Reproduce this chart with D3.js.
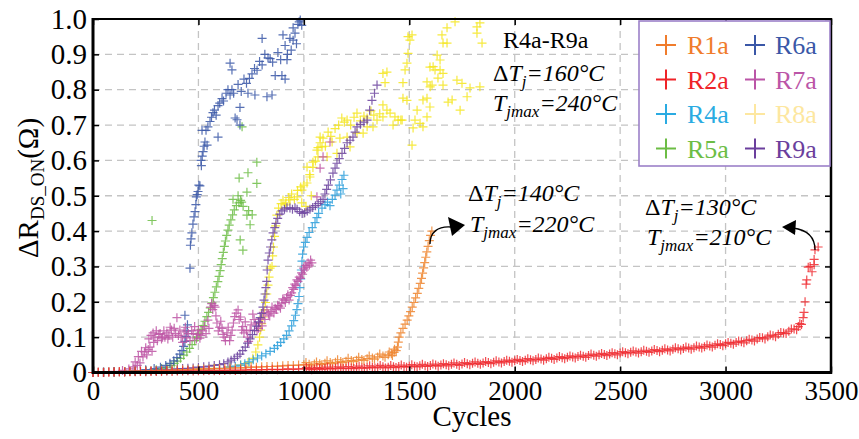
<!DOCTYPE html>
<html><head><meta charset="utf-8">
<script src="https://cdn.jsdelivr.net/npm/d3@7"></script>
<style>body{margin:0;background:#fff}svg{display:block}
svg text{font-family:"Liberation Serif","Times New Roman","DejaVu Serif",serif !important;}</style>
</head><body><svg id="c" width="859" height="439"></svg>
<script>
const xTicks=[0,500,1000,1500,2000,2500,3000,3500];
const yTicks=[0,0.1,0.2,0.3,0.4,0.5,0.6,0.7,0.8,0.9,1.0];
const seriesNames=["R1a","R2a","R4a","R5a","R6a","R7a","R8a","R9a"];
const R1a=[[0,0],[25,.001],[50,.001],[75,.002],[100,.002],[125,.002],[150,.003],[175,.003],[200,.004],[225,.004],[250,.004],[275,.005],[300,.005],[325,.006],[350,.006],[375,.007],[400,.007],[425,.008],[450,.008],[475,.009],[500,.009],[525,.010],[550,.010],[575,.011],[600,.011],[625,.012],[650,.012],[675,.013],[700,.013],[725,.014],[750,.015],[775,.015],[800,.016],[825,.017],[850,.017],[875,.018],[900,.019],[925,.020],[950,.020],[975,.021],[1000,.022],[1025,.023],[1050,.024],[1075,.025],[1100,.026],[1125,.028],[1150,.029],[1175,.031],[1200,.032],[1225,.034],[1250,.035],[1275,.037],[1300,.039],[1325,.041],[1350,.044],[1375,.047],[1400,.050],[1415,.053],[1428,.057],[1438,.062],[1444,.072],[1448,.086],[1452,.100],[1460,.112],[1470,.125],[1480,.137],[1490,.148],[1498,.160],[1506,.172],[1514,.185],[1522,.198],[1530,.211],[1538,.224],[1545,.238],[1552,.252],[1558,.266],[1563,.281],[1568,.296],[1573,.311],[1578,.326],[1583,.341],[1589,.357],[1595,.373],[1601,.388],[1607,.400],
[1010,.028],[1060,.030],[1110,.033],[1160,.036],[1210,.040],[1260,.043],[1310,.047],[1360,.052],[1405,.058],[1430,.066],
[1035,.019],[1085,.022],[1135,.025],[1185,.028],[1235,.031],[1285,.034],[1335,.038],[1385,.043],[1420,.048]];
const R2a=[[0,0],[25,.001],[50,0],[75,.001],[100,.001],[125,.002],[150,.001],[175,.002],[200,.002],[225,.003],[250,.002],[275,.003],[300,.003],[325,.003],[350,.004],[375,.003],[400,.004],[425,.004],[450,.005],[475,.004],[500,.005],[525,.005],[550,.006],[575,.005],[600,.006],[625,.006],[650,.007],[675,.006],[700,.007],[725,.007],[750,.008],[775,.007],[800,.008],[825,.008],[850,.009],[875,.008],[900,.009],[925,.010],[950,.009],[975,.010],[1000,.010],[1025,.011],[1050,.010],[1075,.011],[1100,.012],[1125,.011],[1150,.012],[1175,.013],[1200,.012],[1225,.013],[1250,.014],[1275,.013],[1300,.014],[1325,.015],[1350,.015],[1375,.016],[1400,.015],[1425,.016],[1450,.017],[1475,.017],[1500,.018],[1525,.018],[1550,.019],[1575,.019],[1600,.020],[1625,.021],[1650,.021],[1675,.022],[1700,.023],[1725,.023],[1750,.024],[1775,.025],[1800,.026],[1825,.026],[1850,.027],[1875,.028],[1900,.029],[1925,.030],[1950,.031],[1975,.032],[2000,.033],[2025,.034],[2050,.035],[2075,.036],[2100,.037],[2125,.038],[2150,.039],[2175,.040],[2200,.041],[2225,.042],[2250,.043],[2275,.044],[2300,.045],[2325,.046],[2350,.048],[2375,.049],[2400,.050],[2425,.051],[2450,.052],[2475,.053],[2500,.055],[2525,.056],[2550,.057],[2575,.058],[2600,.059],[2625,.060],[2650,.061],[2675,.062],[2700,.063],[2725,.064],[2750,.066],[2775,.067],[2800,.068],[2825,.069],[2850,.070],[2875,.072],[2900,.073],[2925,.075],[2950,.077],[2975,.079],[3000,.081],[3025,.083],[3050,.085],[3075,.087],[3100,.090],[3125,.092],[3150,.095],[3175,.098],[3200,.101],[3225,.104],[3250,.108],[3275,.112],[3300,.117],[3325,.123],[3345,.130],[3360,.136],[3368,.155],[3372,.170],[3377,.200],[3382,.250],[3385,.262],[3392,.298],[3401,.300],[3410,.285],[3420,.305],[3420,.320],[3424,.347],[3439,.355],
[1012,.014],[1037,.008],[1062,.014],[1087,.009],[1112,.015],[1137,.010],[1162,.016],[1187,.011],[1212,.017],[1237,.011],[1262,.018],[1287,.012],[1312,.019],[1337,.013],[1362,.020],[1387,.013],[1412,.020],[1437,.014],[1462,.021],[1487,.015],[1512,.022],[1537,.016],[1562,.023],[1587,.017],[1612,.024],[1637,.018],[1662,.025],[1687,.019],[1712,.027],[1737,.020],[1762,.028],[1787,.022],[1812,.030],[1837,.023],[1862,.031],[1887,.025],[1912,.033],[1937,.027],[1962,.035],[1987,.029],[2012,.037],[2037,.031],[2062,.039],[2087,.033],[2112,.041],[2137,.035],[2162,.043],[2187,.037],[2212,.045],[2237,.039],[2262,.047],[2287,.041],[2312,.049],[2337,.043],[2362,.052],[2387,.046],[2412,.054],[2437,.048],[2462,.056],[2487,.050],[2512,.059],[2537,.053],[2562,.061],[2587,.055],[2612,.063],[2637,.057],[2662,.065],[2687,.059],[2712,.067],[2737,.061],[2762,.070],[2787,.064],[2812,.072],[2837,.066],[2862,.075],[2887,.069],[2912,.078],[2937,.072],[2962,.081],[2987,.076],[3012,.085],[3037,.080],[3062,.089],[3087,.084],[3112,.094],[3137,.089],[3162,.099],[3187,.095],[3212,.106],[3237,.101],[3262,.113],[3287,.110],[3312,.123],[3337,.121],[3352,.138]];
const R4a=[[0,0],[50,.001],[100,.001],[150,.002],[200,.003],[250,.003],[300,.004],[350,.005],[400,.006],[450,.007],[500,.008],[550,.010],[600,.012],[650,.015],[675,.018],[700,.021],[720,.025],[740,.030],[760,.036],[780,.041],[800,.047],[820,.053],[840,.060],[860,.068],[875,.076],[890,.085],[905,.095],[918,.105],[930,.118],[942,.132],[952,.147],[960,.162],[967,.178],[972,.195],[977,.215],[981,.240],[985,.265],[988,.290],[991,.315],[994,.335],[999,.355],[1007,.368],[1015,.382],[1025,.396],[1040,.410],[1053,.424],[1062,.438],[1070,.450],[1086,.465],[1100,.475],[1112,.482],[1124,.472],[1135,.490],[1148,.502],[1157,.516],[1168,.530],[1181,.546],[1190,.558],[1186,.520],[1175,.505]];
const R5a=[[0,0],[50,.001],[100,.002],[150,.003],[200,.004],[250,.006],[300,.008],[325,.011],[350,.015],[370,.020],[385,.026],[400,.032],[415,.040],[430,.049],[445,.058],[458,.068],[470,.079],[482,.090],[493,.100],[503,.111],[513,.122],[522,.133],[531,.145],[540,.158],[548,.170],[556,.183],[564,.197],[571,.212],[578,.227],[585,.242],[592,.257],[598,.272],[603,.288],[608,.305],[613,.322],[618,.340],[623,.357],[628,.372],[634,.388],[640,.403],[646,.417],[654,.432],[662,.446],[670,.460],[680,.472],[692,.480],[705,.482],[712,.470],[730,.445],[738,.458],[745,.418],[755,.446],[698,.375],[711,.346],[664,.490],[688,.500],[700,.487],[730,.510],[693,.550],[735,.565],[777,.595],[777,.535],[707,.695],[280,.430]];
const R6a=[[0,0],[50,.001],[100,.002],[150,.003],[200,.005],[250,.008],[290,.011],[320,.015],[345,.020],[365,.026],[383,.033],[398,.042],[412,.052],[422,.062],[430,.074],[436,.088],[441,.102],[446,.118],[448,.135],[436,.162],[460,.295],[462,.360],[465,.378],[469,.395],[474,.420],[479,.440],[484,.455],[488,.475],[490,.497],[494,.503],[498,.512],[502,.530],[507,.528],[512,.600],[514,.585],[518,.612],[522,.625],[527,.640],[531,.652],[517,.685],[536,.685],[545,.695],[541,.643],[555,.710],[562,.722],[569,.735],[576,.742],[584,.728],[593,.755],[593,.666],[601,.762],[612,.775],[619,.768],[631,.790],[640,.800],[650,.785],[650,.875],[659,.856],[659,.800],[667,.790],[674,.720],[683,.715],[688,.815],[697,.750],[697,.700],[703,.795],[716,.830],[728,.818],[735,.790],[742,.832],[754,.845],[766,.860],[768,.785],[778,.855],[790,.880],[802,.870],[802,.945],[815,.900],[825,.780],[830,.890],[840,.888],[849,.785],[852,.878],[864,.840],[877,.905],[890,.885],[896,.840],[901,.955],[911,.925],[911,.830],[920,.885],[922,.900],[934,.945],[940,.912],[949,.940],[949,.975],[958,.960],[965,.930],[972,.985],[978,.992],[983,.997],[990,.982]];
const R7a=[[0,0],[50,.001],[100,.003],[140,.006],[170,.010],[190,.016],[200,.030],[210,.020],[215,.045],[223,.027],[230,.060],[237,.044],[245,.058],[250,.070],[255,.050],[262,.065],[265,.095],[270,.072],[275,.105],[280,.060],[285,.112],[288,.085],[294,.100],[300,.118],[305,.090],[312,.108],[318,.110],[325,.095],[330,.100],[336,.118],[341,.100],[350,.112],[355,.095],[360,.105],[366,.128],[372,.120],[378,.100],[385,.125],[392,.110],[398,.155],[405,.105],[412,.120],[418,.100],[425,.085],[432,.115],[438,.128],[445,.098],[452,.110],[460,.090],[468,.118],[475,.110],[482,.130],[490,.095],[495,.108],[500,.120],[507,.097],[512,.105],[520,.118],[528,.130],[536,.110],[545,.148],[550,.125],[558,.185],[563,.195],[568,.178],[574,.190],[579,.185],[583,.160],[588,.140],[594,.118],[600,.128],[606,.145],[612,.125],[617,.108],[622,.100],[628,.090],[635,.112],[641,.128],[648,.090],[654,.105],[660,.120],[666,.140],[672,.158],[679,.168],[688,.177],[693,.150],[700,.157],[705,.120],[710,.130],[716,.112],[722,.143],[728,.118],[733,.100],[738,.088],[745,.120],[750,.135],[758,.165],[764,.150],[770,.140],[778,.118],[785,.125],[790,.140],[796,.152],[802,.132],[808,.170],[815,.150],[825,.177],[832,.165],[838,.160],[844,.172],[849,.185],[858,.168],[864,.182],[870,.178],[876,.190],[882,.188],[889,.182],[895,.196],[900,.208],[906,.205],[912,.198],[918,.212],[924,.220],[930,.205],[936,.218],[942,.225],[947,.240],[952,.235],[957,.250],[962,.246],[967,.262],[972,.258],[978,.270],[984,.266],[989,.282],[994,.278],[999,.295],[1003,.290],[1009,.303],[1014,.298],[1020,.310],[1026,.304],[1032,.318],[1038,.310],[1062,.497],[1077,.578],[1091,.610],[1124,.652]];
const R8a=[[0,0],[100,.002],[200,.004],[300,.006],[400,.008],[500,.010],[575,.012],[650,.016],[700,.021],[735,.028],[758,.040],[772,.058],[782,.078],[790,.100],[795,.120],[800,.138],[806,.157],[812,.177],[818,.198],[824,.222],[830,.247],[835,.270],[840,.295],[849,.300],[852,.330],[856,.355],[861,.385],[866,.415],[872,.445],[880,.465],[892,.478],[901,.488],[911,.474],[915,.480],[928,.495],[934,.488],[942,.505],[955,.490],[968,.497],[970,.515],[985,.525],[991,.516],[1000,.530],[1010,.470],[1015,.536],[1029,.553],[1035,.500],[990,.480],[1015,.581],[1028,.560],[1043,.580],[1043,.595],[1055,.598],[1062,.629],[1067,.610],[1067,.636],[1077,.650],[1077,.666],[1086,.638],[1091,.663],[1102,.640],[1110,.610],[1115,.680],[1128,.668],[1134,.652],[1148,.690],[1157,.620],[1165,.700],[1171,.663],[1180,.720],[1192,.708],[1205,.666],[1205,.714],[1219,.638],[1222,.700],[1238,.722],[1252,.677],[1252,.734],[1268,.712],[1281,.677],[1285,.725],[1300,.695],[1300,.720],[1318,.740],[1328,.695],[1332,.728],[1347,.714],[1360,.732],[1375,.723],[1375,.757],[1375,.846],[1385,.820],[1394,.742],[1394,.850],[1409,.734],[1423,.700],[1432,.723],[1447,.714],[1460,.714],[1466,.714],[1470,.820],[1470,.776],[1480,.856],[1489,.875],[1489,.770],[1494,.903],[1494,.950],[1503,.940],[1513,.955],[1513,.643],[1518,.692],[1527,.714],[1537,.742],[1551,.705],[1565,.695],[1565,.771],[1584,.723],[1584,.776],[1584,.822],[1598,.751],[1598,.864],[1599,.808],[1608,.813],[1613,.865],[1622,.856],[1632,.898],[1636,.833],[1646,.884],[1646,.856],[1655,.955],[1660,.932],[1660,.846],[1660,.813],[1679,.975],[1679,.932],[1684,.765],[1703,.771],[1717,.992],[1726,.827],[1741,.742],[1750,.818],[1774,.780],[1788,.805],[1821,.978],[1821,.960],[1835,.989],[1835,.808],[1845,.932]];
const R9a=[[0,0],[25,.001],[50,.001],[75,.002],[100,.002],[125,.002],[150,.003],[175,.003],[200,.004],[225,.004],[250,.005],[275,.005],[300,.006],[325,.007],[350,.008],[375,.009],[400,.010],[425,.011],[450,.012],[475,.013],[500,.015],[525,.016],[550,.018],[575,.020],[600,.022],[620,.025],[640,.030],[655,.035],[670,.040],[685,.046],[697,.052],[710,.062],[722,.072],[733,.083],[745,.095],[756,.107],[766,.119],[776,.131],[785,.143],[793,.155],[800,.167],[806,.185],[811,.205],[816,.222],[820,.240],[824,.258],[826,.290],[830,.318],[836,.338],[842,.355],[848,.375],[854,.395],[862,.410],[868,.422],[876,.436],[886,.448],[896,.457],[908,.462],[920,.466],[934,.465],[946,.462],[958,.466],[968,.462],[980,.455],[992,.450],[1004,.452],[1016,.457],[1029,.462],[1042,.467],[1055,.472],[1068,.478],[1080,.483],[1091,.490],[1100,.505],[1108,.518],[1116,.530],[1126,.545],[1138,.564],[1148,.578],[1157,.592],[1168,.605],[1181,.620],[1193,.634],[1205,.650],[1219,.657],[1233,.666],[1243,.680],[1252,.695],[1268,.702],[1285,.708],[1300,.714],[1312,.742],[1323,.770],[1335,.790],[1347,.813]];

const markerColors={R1a:"#ee8630",R2a:"#ef2a30",R4a:"#2a9ddb",R5a:"#6cbd45",R6a:"#3a57a7",R7a:"#bd55a5",R8a:"#f4e51c",R9a:"#6b429e"};
const legendColors={R1a:"#f07c2c",R2a:"#ef2328",R4a:"#2aabe2",R5a:"#6cbd45",R6a:"#3a57a7",R7a:"#bb55a7",R8a:"#fde7a0",R9a:"#6b3f9d"};
const dataBy={R1a,R2a,R4a,R5a,R6a,R7a,R8a,R9a};
const drawOrder=["R8a","R4a","R5a","R6a","R7a","R9a","R1a","R2a"];

const svg=d3.select("#c");
const L=93,R=831,T=19,B=372.5;
const x=d3.scaleLinear().domain([0,3500]).range([L,R]);
const y=d3.scaleLinear().domain([0,1]).range([B,T]);

// grid
const grid=svg.append("g").attr("stroke","#c4c4c4").attr("stroke-width",1.3).attr("stroke-dasharray","7,5");
grid.selectAll("line.v").data(xTicks.slice(1,-1)).join("line").attr("x1",d=>x(d)).attr("x2",d=>x(d)).attr("y1",T).attr("y2",B);
grid.selectAll("line.h").data(yTicks.slice(1,-1)).join("line").attr("y1",d=>y(d)).attr("y2",d=>y(d)).attr("x1",L).attr("x2",R);

// markers
const plus="M-4.5,0H4.5M0,-4.5V4.5";
drawOrder.forEach(n=>{
  svg.append("g").selectAll("path").data(dataBy[n]).join("path")
    .attr("d",plus).attr("transform",d=>`translate(${x(d[0])},${y(d[1])})`)
    .attr("stroke",markerColors[n]).attr("stroke-width",1.2).attr("fill","none").attr("opacity",0.85);
});

// axes
const fmtY=d=>d===0?"0":d3.format(".1f")(d);
const ax=(g)=>{g.attr("font-family",null);g.select(".domain").remove();g.selectAll(".tick line").attr("stroke","#000").attr("stroke-width",1.5);g.selectAll("text").attr("fill","#000");};
svg.append("g").attr("transform",`translate(0,${B})`).call(d3.axisBottom(x).tickValues(xTicks).tickSize(-6).tickPadding(8).tickFormat(d3.format("d"))).call(ax).selectAll("text").attr("font-size",27);
svg.append("g").attr("transform",`translate(0,${T})`).call(d3.axisTop(x).tickValues(xTicks).tickSize(-6).tickFormat("")).call(ax);
svg.append("g").attr("transform",`translate(${L},0)`).call(d3.axisLeft(y).tickValues(yTicks).tickSize(-6).tickPadding(6).tickFormat(fmtY)).call(ax).selectAll("text").attr("font-size",29);
svg.append("g").attr("transform",`translate(${R},0)`).call(d3.axisRight(y).tickValues(yTicks).tickSize(-6).tickFormat("")).call(ax);

// frame
svg.append("line").attr("x1",L).attr("x2",R).attr("y1",T).attr("y2",T).attr("stroke","#000").attr("stroke-width",2.2);
svg.append("line").attr("x1",L).attr("x2",R).attr("y1",B).attr("y2",B).attr("stroke","#000").attr("stroke-width",3);
svg.append("line").attr("x1",L).attr("x2",L).attr("y1",T-1).attr("y2",B+1.5).attr("stroke","#000").attr("stroke-width",3);
svg.append("line").attr("x1",R).attr("x2",R).attr("y1",T-1).attr("y2",B+1.5).attr("stroke","#000").attr("stroke-width",2.5);

// axis titles
svg.append("text").attr("x",472).attr("y",426).attr("text-anchor","middle").attr("font-size",29).text("Cycles");
const yl=svg.append("text").attr("transform","translate(38,188) rotate(-90)").attr("text-anchor","middle").attr("font-size",29);
yl.append("tspan").text("ΔR");
yl.append("tspan").attr("font-size",19).attr("dy",6).text("DS_ON");
yl.append("tspan").attr("dy",-6).text("(Ω)");

// legend
const lg=svg.append("g");
lg.append("rect").attr("x",639).attr("y",21).attr("width",191).attr("height",145).attr("fill","#fff").attr("stroke","#9c80c9").attr("stroke-width",1.6);
seriesNames.forEach((n,i)=>{
  const col=Math.floor(i/4), row=i%4;
  const cx=col?755:666, cy=45+row*34.5;
  lg.append("path").attr("d","M-10,0H10M0,-10V10").attr("transform",`translate(${cx},${cy})`).attr("stroke",legendColors[n]).attr("stroke-width",2);
  lg.append("text").attr("x",col?775:687).attr("y",cy+9).attr("font-size",26).attr("fill",legendColors[n]).text(n);
});

// annotations
function dT(xp,yp,val){
  const t=svg.append("text").attr("x",xp).attr("y",yp).attr("font-size",24);
  t.append("tspan").text("Δ");
  t.append("tspan").attr("font-style","italic").text("T");
  t.append("tspan").attr("font-style","italic").attr("font-size",17).attr("dy",6).text("j");
  t.append("tspan").attr("font-style","italic").attr("dy",-6).text("="+val+"°C");
}
function Tm(xp,yp,val){
  const t=svg.append("text").attr("x",xp).attr("y",yp).attr("font-size",24).attr("font-style","italic");
  t.append("tspan").text("T");
  t.append("tspan").attr("font-size",17).attr("dy",6).text("jmax");
  t.append("tspan").attr("dy",-6).text("="+val+"°C");
}
svg.append("text").attr("x",503).attr("y",48).attr("font-size",24).text("R4a-R9a");
dT(493,81,160); Tm(493,111,240);
dT(468,201,140); Tm(470,232,220);
dT(645,215,130); Tm(647,245,210);

// arrows
svg.append("path").attr("d","M430,244 C430,232 438,226 451,227").attr("fill","none").attr("stroke","#000").attr("stroke-width",1.3);
svg.append("path").attr("d","M465,225 L448,217 L452,236 Z").attr("fill","#000");
svg.append("path").attr("d","M815,250 C815,238 808,230 793,228").attr("fill","none").attr("stroke","#000").attr("stroke-width",1.3);
svg.append("path").attr("d","M782,227 L796,220 L795,235 Z").attr("fill","#000");
</script></body></html>
